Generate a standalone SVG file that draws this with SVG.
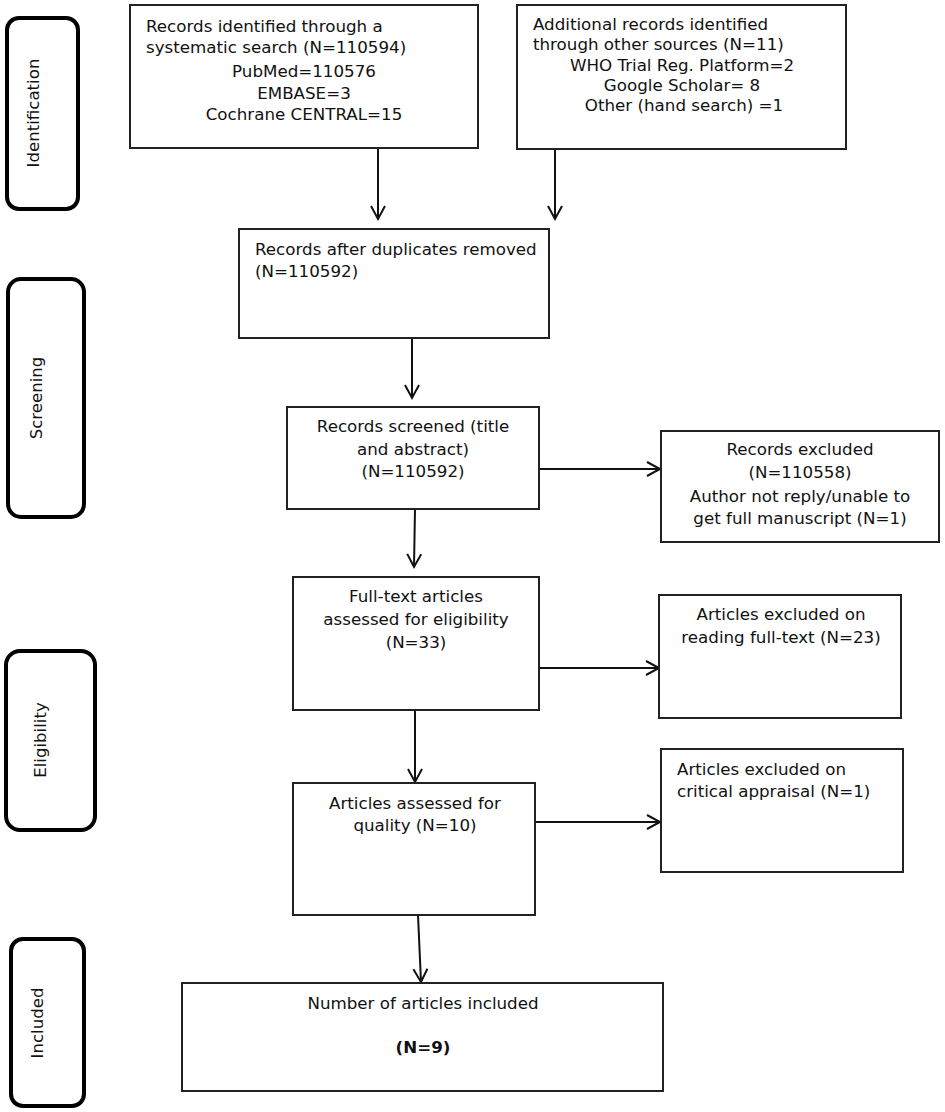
<svg xmlns="http://www.w3.org/2000/svg" width="945" height="1112" viewBox="0 0 945 1112">
<defs>
<marker id="arr" markerUnits="userSpaceOnUse" markerWidth="18" markerHeight="20" refX="14" refY="8" orient="auto">
<path d="M1,1 L14,8 L1,15" fill="none" stroke="#111" stroke-width="2"/>
</marker>
<style>
.box{fill:#fff;stroke:#222;stroke-width:2}
.phase{fill:#fff;stroke:#000;stroke-width:4}
.t{font-family:"DejaVu Sans","Verdana",sans-serif;font-size:16.7px;fill:#111}
.c{text-anchor:middle}
.ph{font-family:"DejaVu Sans","Verdana",sans-serif;font-size:16.6px;fill:#111;text-anchor:middle;dominant-baseline:central}
.b{font-weight:bold}
.con{fill:none;stroke:#111;stroke-width:2;marker-end:url(#arr)}
</style>
</defs>
<rect width="945" height="1112" fill="#fff"/>

<g id="phase-identification">
<rect class="phase" x="7" y="18" width="71" height="191" rx="12"/>
<text class="ph" transform="translate(33,113) rotate(-90)">Identification</text>
</g>
<g id="phase-screening">
<rect class="phase" x="8" y="279" width="76" height="238" rx="13"/>
<text class="ph" transform="translate(36,398) rotate(-90)">Screening</text>
</g>
<g id="phase-eligibility">
<rect class="phase" x="6" y="651" width="89" height="179" rx="14"/>
<text class="ph" transform="translate(40,740) rotate(-90)">Eligibility</text>
</g>
<g id="phase-included">
<rect class="phase" x="11" y="939" width="73" height="167" rx="12"/>
<text class="ph" transform="translate(37,1023) rotate(-90)">Included</text>
</g>

<g id="connectors">
<path class="con" d="M378,148 L378,219"/>
<path class="con" d="M555,149 L555,219"/>
<path class="con" d="M412,338 L412,398"/>
<path class="con" d="M415,509 L414,567"/>
<path class="con" d="M539,469 L660,469"/>
<path class="con" d="M539,668 L659,668"/>
<path class="con" d="M415,710 L415,782"/>
<path class="con" d="M535,822 L660,822"/>
<path class="con" d="M418,915 L421,982"/>
</g>

<g id="n-search">
<rect class="box" x="130" y="5" width="348" height="143"/>
<text class="t" x="146" y="32">Records identified through a</text>
<text class="t" x="146" y="53">systematic search (N=110594)</text>
<text class="t c" x="304" y="77">PubMed=110576</text>
<text class="t c" x="304" y="99">EMBASE=3</text>
<text class="t c" x="304" y="120">Cochrane CENTRAL=15</text>
</g>

<g id="n-other">
<rect class="box" x="517" y="5" width="329" height="144"/>
<text class="t" x="533" y="30">Additional records identified</text>
<text class="t" x="533" y="50">through other sources (N=11)</text>
<text class="t c" x="682" y="71">WHO Trial Reg. Platform=2</text>
<text class="t c" x="682" y="91">Google Scholar= 8</text>
<text class="t c" x="684" y="111">Other (hand search) =1</text>
</g>

<g id="n-dedup">
<rect class="box" x="239" y="229" width="310" height="109"/>
<text class="t" x="255" y="255">Records after duplicates removed</text>
<text class="t" x="255" y="277">(N=110592)</text>
</g>

<g id="n-screened">
<rect class="box" x="287" y="407" width="252" height="102"/>
<text class="t c" x="413" y="432">Records screened (title</text>
<text class="t c" x="413" y="455">and abstract)</text>
<text class="t c" x="413" y="477">(N=110592)</text>
</g>

<g id="n-excluded">
<rect class="box" x="661" y="431" width="278" height="111"/>
<text class="t c" x="800" y="455">Records excluded</text>
<text class="t c" x="800" y="478">(N=110558)</text>
<text class="t c" x="800" y="502">Author not reply/unable to</text>
<text class="t c" x="800" y="524">get full manuscript (N=1)</text>
</g>

<g id="n-fulltext">
<rect class="box" x="293" y="577" width="246" height="133"/>
<text class="t c" x="416" y="602">Full-text articles</text>
<text class="t c" x="416" y="625">assessed for eligibility</text>
<text class="t c" x="416" y="648">(N=33)</text>
</g>

<g id="n-excl-fulltext">
<rect class="box" x="659" y="595" width="242" height="123"/>
<text class="t c" x="781" y="620">Articles excluded on</text>
<text class="t c" x="781" y="643">reading full-text (N=23)</text>
</g>

<g id="n-quality">
<rect class="box" x="293" y="783" width="242" height="132"/>
<text class="t c" x="415" y="809">Articles assessed for</text>
<text class="t c" x="415" y="831">quality (N=10)</text>
</g>

<g id="n-excl-appraisal">
<rect class="box" x="661" y="749" width="242" height="123"/>
<text class="t" x="677" y="775">Articles excluded on</text>
<text class="t" x="677" y="797">critical appraisal (N=1)</text>
</g>

<g id="n-included">
<rect class="box" x="182" y="983" width="481" height="108"/>
<text class="t c" x="423" y="1009">Number of articles included</text>
<text class="t c b" x="423" y="1053">(N=9)</text>
</g>
</svg>
